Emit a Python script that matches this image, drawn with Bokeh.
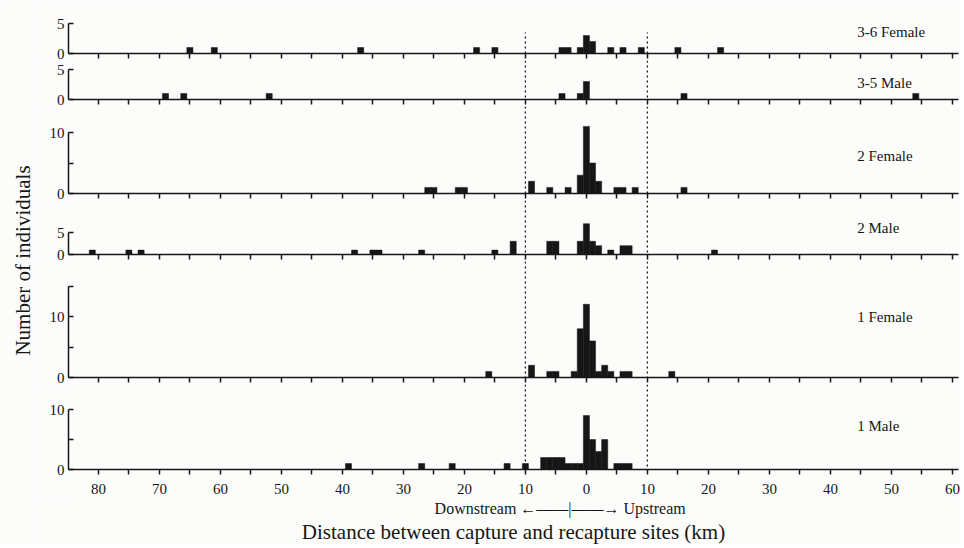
import math
from bokeh.plotting import figure
from bokeh.layouts import row, column
from bokeh.models import Range1d, FixedTicker, Label, Span
from bokeh.embed import file_html
from bokeh.resources import INLINE
from bokeh.core.properties import value

# ---------------- data (km: negative = downstream, positive = upstream) ----------------
panel_names = ["3-6 Female", "3-5 Male", "2 Female", "2 Male", "1 Female", "1 Male"]

f36_km = [-65, -61, -37, -18, -15, -4, -3, -1, 0, 1, 4, 6, 9, 15, 22]
f36_n = [1, 1, 1, 1, 1, 1, 1, 1, 3, 2, 1, 1, 1, 1, 1]

m35_km = [-69, -66, -52, -4, -1, 0, 16, 54]
m35_n = [1, 1, 1, 1, 1, 3, 1, 1]

f2_km = [-26, -25, -21, -20, -9, -6, -3, -1, 0, 1, 2, 5, 6, 8, 16]
f2_n = [1, 1, 1, 1, 2, 1, 1, 3, 11, 5, 2, 1, 1, 1, 1]

m2_km = [-81, -75, -73, -38, -35, -34, -27, -15, -12, -6, -5, -1, 0, 1, 2, 4, 6, 7, 21]
m2_n = [1, 1, 1, 1, 1, 1, 1, 1, 3, 3, 3, 3, 7, 3, 2, 1, 2, 2, 1]

f1_km = [-16, -9, -6, -5, -2, -1, 0, 1, 2, 3, 4, 6, 7, 14]
f1_n = [1, 2, 1, 1, 1, 8, 12, 6, 1, 2, 1, 1, 1, 1]

m1_km = [-39, -27, -22, -13, -10, -7, -6, -5, -4, -3, -2, -1, 0, 1, 2, 3, 5, 6, 7]
m1_n = [1, 1, 1, 1, 1, 2, 2, 2, 2, 1, 1, 1, 9, 5, 3, 5, 1, 1, 1]

panel_km = [f36_km, m35_km, f2_km, m2_km, f1_km, m1_km]
panel_n = [f36_n, m35_n, f2_n, m2_n, f1_n, m1_n]

y_axis_max = [5, 5, 10, 5, 15, 10]
y_ticks = [[0, 5], [0, 5], [0, 5, 10], [0, 5], [0, 5, 10, 15], [0, 5, 10]]
y_tick_labels = [
    {0: "0", 5: "5"},
    {0: "0", 5: "5"},
    {0: "0", 5: "", 10: "10"},
    {0: "0", 5: "5"},
    {0: "0", 5: "", 10: "10", 15: ""},
    {0: "0", 5: "", 10: "10"},
]
x_ticks = list(range(-80, 61, 5))
x_tick_labels = {t: (str(abs(t)) if t % 10 == 0 else "") for t in x_ticks}
boundaries = [-10, 10]

x_title = "Distance between capture and recapture sites (km)"
y_title = "Number of individuals"
direction_text = "Downstream \u2190\u2014\u2014|\u2014\u2014\u2192 Upstream"
direction_center_km = -4.3

# ---------------- layout / style ----------------
FONT = "Liberation Serif"
BG = "#fcfcfa"
INK = "#161616"
frame_h = [45, 39, 87, 54, 116, 85]      # px
ppu = [6.0, 6.0, 6.1, 4.4, 6.1, 6.0]     # px per individual
name_dy = [22, 17, 38, 27, 61, 44]       # px above baseline for panel names
TOP = 8
BB = 7
BB_LAST = 30
TEXT_H = 46
LEFT_W = 38
PANEL_W = 922
BL, BR = 30, 2

xr = Range1d(-84.9, 61.0)

panels = []
for i in range(6):
    last = (i == 5)
    bb = BB_LAST if last else BB
    bt = TOP if i == 0 else 0
    h = frame_h[i] + bb + bt
    p = figure(width=PANEL_W, height=h, x_range=xr,
               y_range=Range1d(0, frame_h[i] / ppu[i]),
               output_backend="svg", toolbar_location=None,
               min_border_left=BL, min_border_right=BR,
               min_border_top=bt, min_border_bottom=bb,
               background_fill_color=BG, border_fill_color=BG,
               outline_line_color=None)
    p.xgrid.visible = False
    p.ygrid.visible = False

    p.vbar(x=panel_km[i], top=panel_n[i], width=1.0, bottom=0,
           fill_color=INK, line_color=INK, line_width=0.5)

    # boundary lines at +-10 km
    if i == 0:
        p.segment(x0=boundaries, x1=boundaries, y0=[0, 0], y1=[3.5, 3.5],
                  line_color=INK, line_width=1.3, line_dash="2 3")
    else:
        for b in boundaries:
            p.add_layout(Span(location=b, dimension="height", line_color=INK,
                              line_width=1.3, line_dash="2 3"))

    # y axis
    ya = p.yaxis[0]
    ya.ticker = FixedTicker(ticks=y_ticks[i], minor_ticks=[])
    ya.bounds = (0, y_axis_max[i])
    ya.major_label_overrides = y_tick_labels[i]
    ya.major_tick_in = 5
    ya.major_tick_out = 0
    ya.minor_tick_line_color = None
    ya.axis_line_width = 1.5
    ya.axis_line_color = INK
    ya.major_tick_line_color = INK
    ya.major_tick_line_width = 1.5
    ya.major_label_standoff = 4
    ya.major_label_text_font = FONT
    ya.major_label_text_font_size = "15px"
    ya.major_label_text_color = INK

    # x axis
    xa = p.xaxis[0]
    xa.ticker = FixedTicker(ticks=x_ticks, minor_ticks=[])
    xa.major_tick_in = 0
    xa.major_tick_out = 5
    xa.minor_tick_line_color = None
    xa.axis_line_width = 1.5
    xa.axis_line_color = INK
    xa.major_tick_line_color = INK
    xa.major_tick_line_width = 1.5
    if last:
        xa.major_label_overrides = x_tick_labels
        xa.major_label_standoff = 9
        xa.major_label_text_font = FONT
        xa.major_label_text_font_size = "15px"
        xa.major_label_text_color = INK
    else:
        xa.major_label_overrides = {t: "" for t in x_ticks}
        xa.major_label_standoff = 0
        xa.major_label_text_font_size = "0px"

    p.add_layout(Label(x=44.4, y=name_dy[i] / ppu[i], text=panel_names[i],
                       text_align="left", text_baseline="middle",
                       text_font=FONT, text_font_size="15px", text_color=INK))
    panels.append(p)

# bottom strip with direction text and axis title
tx = figure(width=PANEL_W, height=TEXT_H, x_range=xr, y_range=Range1d(0, TEXT_H),
            output_backend="svg", toolbar_location=None,
            min_border_left=BL, min_border_right=BR, min_border_top=0, min_border_bottom=0,
            x_axis_location=None, y_axis_location=None,
            background_fill_color=BG, border_fill_color=BG, outline_line_color=None)
tx.xgrid.visible = False
tx.ygrid.visible = False
tx.text(x=[direction_center_km], y=[TEXT_H - 9], text=[direction_text],
        text_align="center", text_baseline="middle",
        text_font=value(FONT), text_font_size=value("16px"), text_color=INK)
tx.text(x=[(xr.start + xr.end) / 2], y=[TEXT_H - 32], text=[x_title],
        text_align="center", text_baseline="middle",
        text_font=value(FONT), text_font_size=value("21px"), text_color=INK)

total_h = TOP + sum(f + BB for f in frame_h[:5]) + frame_h[5] + BB_LAST + TEXT_H

lab = figure(width=LEFT_W, height=total_h, x_range=Range1d(0, LEFT_W),
             y_range=Range1d(0, total_h), output_backend="svg",
             toolbar_location=None, min_border=0,
             x_axis_location=None, y_axis_location=None,
             background_fill_color=BG, border_fill_color=BG,
             outline_line_color=None)
lab.xgrid.visible = False
lab.ygrid.visible = False
lab.text(x=[22], y=[total_h - 260], text=[y_title], angle=math.pi / 2,
         text_align="center", text_baseline="middle",
         text_font=value(FONT), text_font_size=value("21px"), text_color=INK)

layout = row(lab, column(*panels, tx, spacing=0), spacing=0)
open("out.html", "w").write(file_html(layout, INLINE))
